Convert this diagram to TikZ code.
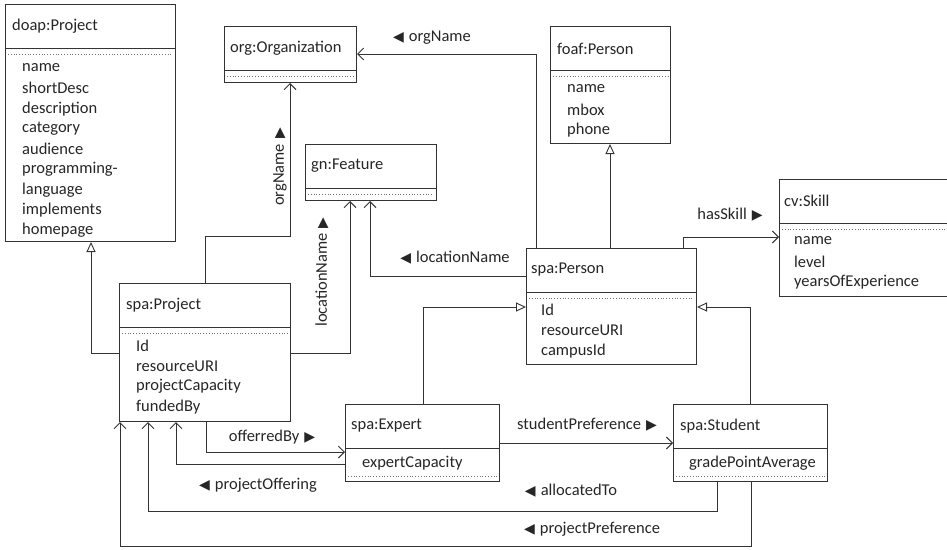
\documentclass[tikz,border=0pt]{standalone}
\usepackage{fontspec}
\setmainfont{Carlito}
\newfontfamily\symfont{DejaVu Sans}
\usetikzlibrary{arrows.meta}
\usetikzlibrary{positioning}
\usetikzlibrary{calc}
\tikzset{umlclass/.style={draw=black!80, line width=1pt, fill=white, anchor=north west},
  classtitle/.style={anchor=west, text=black!85},
  attr/.style={anchor=west, text=black!85},
  headline/.style={draw=black!80, line width=1pt},
  dotsep/.style={draw=black!55, dotted, line width=0.8pt},
  assoc/.style={draw=black!80, line width=0.9pt, -{Straight Barb[length=6pt,width=12pt]}},
  generalize/.style={draw=black!80, line width=0.9pt, -{Triangle[open,length=10pt,width=9pt,fill=white]}},
  rolelabel/.style={text=black!85}}
\newcommand{\dirR}{{\symfont\fontsize{14}{14}\selectfont ▶}}
\newcommand{\dirL}{{\symfont\fontsize{14}{14}\selectfont ◀}}

\begin{document}
\begin{tikzpicture}[x=1pt, y=-1pt, font=\fontsize{16.5}{20}\selectfont]
\tikzstyle{every node}+=[inner sep=0pt]
\useasboundingbox (0,0) rectangle (947,549);
% classes
\node[umlclass, minimum width=170pt, minimum height=237pt] (doap) at (5,4) {};
\node[umlclass, minimum width=132pt, minimum height=56pt] (org) at (224,26) {};
\node[umlclass, minimum width=131pt, minimum height=56pt] (gn) at (305,144) {};
\node[umlclass, minimum width=120pt, minimum height=117pt] (foaf) at (550,26) {};
\node[umlclass, minimum width=172pt, minimum height=117pt] (cv) at (779,179) {};
\node[umlclass, minimum width=170pt, minimum height=116pt] (person) at (526,248) {};
\node[umlclass, minimum width=171pt, minimum height=138pt] (proj) at (119,283) {};
\node[umlclass, minimum width=154pt, minimum height=77pt] (expert) at (345,404) {};
\node[umlclass, minimum width=154pt, minimum height=77pt] (student) at (673,404) {};
% compartments
\foreach \c in {doap, org, gn, foaf, cv, person, proj, expert, student}
  \draw[headline] ($(\c.north west)+(0,44.5)$) -- ($(\c.north east)+(0,44.5)$);
\foreach \c in {doap, org, gn, foaf, cv, person, proj}
  \draw[dotsep] ($(\c.north west)+(3,50)$) -- ($(\c.north east)+(-3,50)$);
\foreach \c in {expert, student}
  \draw[dotsep] ($(\c.south west)+(3,-6)$) -- ($(\c.south east)+(-3,-6)$);
% titles
\node[classtitle] (doapname) at ($(doap.north west)+(7,22)$) {doap:Project};
\node[classtitle] (orgname) at ($(org.north west)+(6,22)$) {org:Organization};
\node[classtitle] (gnname) at ($(gn.north west)+(6,22)$) {gn:Feature};
\node[classtitle] (foafname) at ($(foaf.north west)+(7,23)$) {foaf:Person};
\node[classtitle] (cvname) at ($(cv.north west)+(5,22)$) {cv:Skill};
\node[classtitle] (personname) at ($(person.north west)+(5,22)$) {spa:Person};
\node[classtitle] (projname) at ($(proj.north west)+(7,22)$) {spa:Project};
\node[classtitle] (expertname) at ($(expert.north west)+(6,22)$) {spa:Expert};
\node[classtitle] (studentname) at ($(student.north west)+(7,22)$) {spa:Student};
% attributes
\foreach \a [count=\i from 0] in {name, shortDesc, description, category, audience, programming-, language, implements, homepage}
  \node[attr] (doapattr\i) at ($(doap.north west)+(17,64+20.3*\i)$) {\a};
\foreach \a [count=\i from 0] in {name, mbox, phone}
  \node[attr] (foafattr\i) at ($(foaf.north west)+(17,63+20.5*\i)$) {\a};
\foreach \a [count=\i from 0] in {name, level, yearsOfExperience}
  \node[attr] (cvattr\i) at ($(cv.north west)+(15,62+20.5*\i)$) {\a};
\foreach \a [count=\i from 0] in {Id, resourceURI, campusId}
  \node[attr] (personattr\i) at ($(person.north west)+(15,62+20.5*\i)$) {\a};
\foreach \a [count=\i from 0] in {Id, resourceURI, projectCapacity, fundedBy}
  \node[attr] (projattr\i) at ($(proj.north west)+(17,63+20.3*\i)$) {\a};
\node[attr] (expertattr) at ($(expert.north west)+(17,59)$) {expertCapacity};
\node[attr] (studentattr) at ($(student.north west)+(16,59)$) {gradePointAverage};
% generalizations
\draw[generalize] ($(proj.north west)+(0,70)$) -| ($(doap.south west)+(86,0)$);
\draw[generalize] ($(person.north west)+(84,0)$) -- ($(foaf.south west)+(60,0)$);
\draw[generalize] ($(expert.north west)+(78,0)$) |- ($(person.north west)+(0,59)$);
\draw[generalize] ($(student.north west)+(77,0)$) |- ($(person.north east)+(0,59)$);
% associations
\draw[assoc] ($(proj.north west)+(86,0)$) |- ($(org.south west)+(66,153)$) -- ($(org.south west)+(66,0)$);
\node[rolelabel, rotate=90] (l1) at (280,167) {orgName\hspace{5pt}\dirR};
\draw[assoc] ($(proj.north east)+(0,70)$) -| ($(gn.south west)+(45,0)$);
\node[rolelabel, rotate=90] (l2) at (322,272) {locationName\hspace{5pt}\dirR};
\draw[assoc] ($(person.north west)+(0,28)$) -| ($(gn.south west)+(65,0)$);
\node[rolelabel] (l3) at (455,258) {\dirL\hspace{5pt}locationName};
\draw[assoc] ($(person.north west)+(10,0)$) |- ($(org.north east)+(0,28)$);
\node[rolelabel] (l4) at (432,38) {\dirL\hspace{5pt}orgName};
\draw[assoc] ($(person.north west)+(157,0)$) |- ($(cv.north west)+(0,58)$);
\node[rolelabel] (l5) at (730,215) {hasSkill\hspace{5pt}\dirR};
\draw[assoc] ($(proj.south west)+(87,0)$) |- ($(expert.north west)+(0,48)$);
\node[rolelabel] (l6) at (272,437) {offerredBy\hspace{5pt}\dirR};
\draw[assoc] ($(expert.north west)+(0,60)$) -| ($(proj.south west)+(57,0)$);
\node[rolelabel] (l7) at (258,485) {\dirL\hspace{5pt}projectOffering};
\draw[assoc] ($(expert.north east)+(0,39)$) -- ($(student.north west)+(0,39)$);
\node[rolelabel] (l8) at (587,425) {studentPreference\hspace{5pt}\dirR};
\draw[assoc] ($(student.south west)+(44,0)$) -- ++(0,29) -| ($(proj.south west)+(29,0)$);
\node[rolelabel] (l9) at (571,491) {\dirL\hspace{5pt}allocatedTo};
\draw[assoc] ($(student.south west)+(78,0)$) -- ++(0,64) -| ($(proj.south west)+(1,0)$);
\node[rolelabel] (l10) at (592,529) {\dirL\hspace{5pt}projectPreference};
\end{tikzpicture}
\end{document}
